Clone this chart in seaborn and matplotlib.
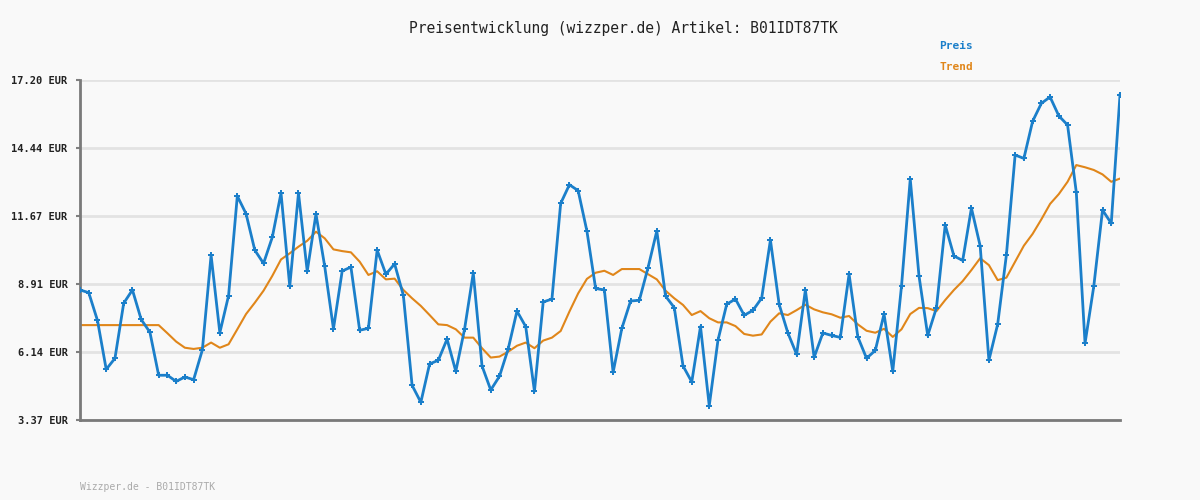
import seaborn as sns
import matplotlib.pyplot as plt
import matplotlib
import pandas as pd

matplotlib.use('Agg')

# Preisverlauf (120 Messpunkte)
preis = [
    8.66, 8.55, 7.42, 5.43, 5.88, 8.12, 8.66, 7.46, 6.94, 5.19,
    5.19, 4.94, 5.12, 5.01, 6.22, 10.07, 6.92, 8.43, 12.48, 11.76,
    10.28, 9.74, 10.80, 12.60, 8.81, 12.60, 9.42, 11.75, 9.62, 7.08,
    9.43, 9.59, 7.02, 7.10, 10.28, 9.30, 9.72, 8.44, 4.78, 4.09,
    5.65, 5.80, 6.66, 5.35, 7.06, 9.35, 5.57, 4.59, 5.15, 6.27,
    7.80, 7.17, 4.54, 8.17, 8.29, 12.18, 12.94, 12.70, 11.06, 8.72,
    8.66, 5.31, 7.10, 8.21, 8.24, 9.57, 11.06, 8.41, 7.94, 5.57,
    4.92, 7.17, 3.95, 6.62, 8.08, 8.29, 7.63, 7.83, 8.33, 10.69,
    8.07, 6.91, 6.04, 8.66, 5.92, 6.91, 6.81, 6.73, 9.30, 6.75,
    5.88, 6.20, 7.68, 5.35, 8.82, 13.17, 9.23, 6.81, 7.94, 11.30,
    10.04, 9.86, 11.99, 10.45, 5.80, 7.26, 10.08, 14.15, 14.01, 15.52,
    16.25, 16.51, 15.74, 15.37, 12.63, 6.49, 8.81, 11.91, 11.37, 16.59,
]

trend = [
    7.23, 7.23, 7.23, 7.23, 7.23, 7.23, 7.23, 7.23, 7.23, 7.23,
    6.90, 6.56, 6.31, 6.26, 6.31, 6.52, 6.31, 6.45, 7.06, 7.68,
    8.14, 8.63, 9.23, 9.90, 10.15, 10.42, 10.66, 11.03, 10.76, 10.31,
    10.24, 10.19, 9.81, 9.27, 9.42, 9.09, 9.12, 8.66, 8.32, 8.01,
    7.64, 7.26, 7.23, 7.06, 6.72, 6.72, 6.29, 5.91, 5.95, 6.15,
    6.39, 6.52, 6.29, 6.60, 6.72, 6.99, 7.78, 8.52, 9.11, 9.36,
    9.44, 9.27, 9.51, 9.51, 9.51, 9.30, 9.09, 8.63, 8.32, 8.05,
    7.64, 7.80, 7.51, 7.34, 7.34, 7.19, 6.87, 6.80, 6.85, 7.37,
    7.71, 7.64, 7.84, 8.06, 7.87, 7.75, 7.67, 7.53, 7.60, 7.26,
    7.00, 6.92, 7.08, 6.75, 7.06, 7.68, 7.93, 7.92, 7.80, 8.25,
    8.66, 9.02, 9.47, 9.95, 9.67, 9.06, 9.16, 9.81, 10.46, 10.94,
    11.53, 12.16, 12.56, 13.06, 13.74, 13.65, 13.54, 13.36, 13.06, 13.19,
]

y_ticks = [3.37, 6.14, 8.91, 11.67, 14.44, 17.20]

BLUE = "#1b7fca"
ORANGE = "#e0861a"
BG = "#f9f9f9"
MONO = ["DejaVu Sans Mono"]

df = pd.DataFrame({"idx": range(len(preis)), "Preis": preis, "Trend": trend})

fig = plt.figure(figsize=(12, 5), dpi=100, facecolor=BG)
ax = fig.add_axes([80 / 1200, 80 / 500, 1040 / 1200, 340 / 500])
ax.set_facecolor(BG)

# Gitterlinien
for t in y_ticks:
    ax.axhline(t, color="#e3e3e3", lw=2, zorder=0)

sns.lineplot(data=df, x="idx", y="Trend", color=ORANGE, lw=1.5, ax=ax, zorder=2)
sns.lineplot(data=df, x="idx", y="Preis", color=BLUE, lw=2.0, marker="P",
             markersize=4.5, markeredgewidth=0, ax=ax, zorder=3)

ax.set_xlim(0, len(preis) - 1)
ax.set_ylim(y_ticks[0], y_ticks[-1])
ax.set_yticks(y_ticks)
ax.set_yticklabels([f"{t:.2f} EUR" for t in y_ticks], family=MONO,
                   fontsize=7.5, fontweight="bold", color="#222222")
ax.set_xticks([])
ax.set_xlabel("")
ax.set_ylabel("")
ax.tick_params(axis="y", length=3, width=1.5, color="#808080", pad=6)

for side in ["top", "right"]:
    ax.spines[side].set_visible(False)
for side in ["left", "bottom"]:
    ax.spines[side].set_color("#7a7a7a")
    ax.spines[side].set_linewidth(2)

# Titel, Legende, Fusszeile
fig.text(623 / 1200, 1 - 28 / 500, "Preisentwicklung (wizzper.de) Artikel: B01IDT87TK",
         family=MONO, fontsize=10.5, color="#222222", ha="center", va="center")
fig.text(939 / 1200, 1 - 46 / 500, "Preis", family=MONO, fontsize=8,
         fontweight="bold", color=BLUE, ha="left", va="center")
fig.text(939 / 1200, 1 - 67 / 500, "Trend", family=MONO, fontsize=8,
         fontweight="bold", color=ORANGE, ha="left", va="center")
fig.text(80 / 1200, 1 - 487 / 500, "Wizzper.de - B01IDT87TK", family=MONO,
         fontsize=7, color="#aaaaaa", ha="left", va="center")

plt.savefig("out.png", dpi=100, facecolor=BG)
